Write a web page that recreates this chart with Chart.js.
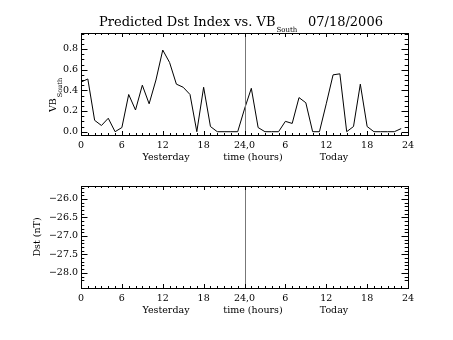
<!DOCTYPE html>
<html><head><meta charset="utf-8">
<script src="https://cdn.jsdelivr.net/npm/chart.js@4/dist/chart.umd.min.js"></script>
<style>
html,body{margin:0;padding:0;background:#fff;}
#wrap{position:relative;width:453px;height:340px;}
canvas{position:absolute;left:0;}
</style></head><body>
<div id="wrap">
<canvas id="c1" width="453" height="170" style="top:0;width:453px;height:170px"></canvas>
<canvas id="c2" width="453" height="170" style="top:170px;width:453px;height:170px"></canvas>
</div>
<script>
const hours = [0,1,2,3,4,5,6,7,8,9,10,11,12,13,14,15,16,17,18,19,20,21,22,23,
  24,25,26,27,28,29,30,31,32,33,34,35,36,37,38,39,40,41,42,43,44,45,46,47];
const vbSouth = [0.48,0.51,0.11,0.06,0.13,0.00,0.04,0.36,0.21,0.45,0.27,0.50,
  0.79,0.67,0.46,0.43,0.36,0.00,0.43,0.05,0.00,0.00,0.00,0.00,
  0.22,0.42,0.04,0.00,0.00,0.00,0.10,0.08,0.33,0.28,0.00,0.00,
  0.27,0.55,0.56,0.00,0.05,0.46,0.05,0.00,0.00,0.00,0.00,0.03];
const dstValues = [];
const xTicks = [0,6,12,18,24,30,36,42,48];
const xTickLabels = ["0","6","12","18","24,0","6","12","18","24"];
const vbTicks = [0.0,0.2,0.4,0.6,0.8];
const dstTicks = [-28.0,-27.5,-27.0,-26.5,-26.0];
const titleMain = "Predicted Dst Index vs. VB";
const titleSub = "South";
const titleDate = "07/18/2006";
const xTitles = ["Yesterday","time (hours)","Today"];

const FONT = "DejaVu Serif";

function idlPlugin(opts){
  return {
    id:'idl'+opts.id,
    afterDraw(chart){
      const ctx=chart.ctx, a=chart.chartArea, xs=chart.scales.x, ys=chart.scales.y;
      ctx.save();
      ctx.strokeStyle='#777'; ctx.lineWidth=1;
      const xm=Math.round(xs.getPixelForValue(24))+0.5;
      ctx.beginPath(); ctx.moveTo(xm,a.top); ctx.lineTo(xm,a.bottom); ctx.stroke();
      ctx.strokeStyle='#000';
      ctx.strokeRect(Math.round(a.left)+0.5,Math.round(a.top)+0.5,Math.round(a.right-a.left),Math.round(a.bottom-a.top));
      ctx.beginPath();
      for(let h=0;h<=48;h++){
        const px=Math.round(xs.getPixelForValue(h))+0.5;
        const L=(h%6===0)?4:2;
        ctx.moveTo(px,a.bottom); ctx.lineTo(px,a.bottom-L);
        ctx.moveTo(px,a.top); ctx.lineTo(px,a.top+L);
      }
      const n=Math.round((opts.ymaxTick-opts.yminTick)/opts.minor);
      for(let i=-2;i<=n+4;i++){
        const v=opts.yminTick+i*opts.minor;
        if(v<ys.min-1e-9||v>ys.max+1e-9) continue;
        const py=Math.round(ys.getPixelForValue(v))+0.5;
        const major=Math.abs(i%opts.per)<1e-9;
        const L=major?6.5:3.3;
        ctx.moveTo(a.left,py); ctx.lineTo(a.left+L,py);
        ctx.moveTo(a.right,py); ctx.lineTo(a.right-L,py);
      }
      ctx.stroke();
      ctx.fillStyle='#000'; ctx.font='9.5px "'+FONT+'"'; ctx.textAlign='center'; ctx.textBaseline='middle';
      const ty=a.bottom+22.5;
      ctx.fillText(xTitles[0],166,ty);
      ctx.fillText(xTitles[1],253,ty);
      ctx.fillText(xTitles[2],334,ty);
      opts.extra(ctx,a);
      ctx.restore();
    }
  };
}

function baseOptions(yMin,yMax,yTicks,fmt,padTop,xH){
  return {
    responsive:false, animation:false,
    layout:{padding:{top:padTop,right:45,left:0,bottom:0}},
    plugins:{legend:{display:false},tooltip:{enabled:false},title:{display:false}},
    scales:{
      x:{type:'linear',min:0,max:48,
        afterBuildTicks(ax){ax.ticks=xTicks.map(v=>({value:v}));},
        afterFit(ax){ax.height=xH;},
        grid:{display:false,drawTicks:false},border:{display:false},
        ticks:{padding:5,color:'#000',maxRotation:0,autoSkip:false,font:{family:FONT,size:9.5},
          callback:(v)=>xTickLabels[xTicks.indexOf(v)]}},
      y:{type:'linear',min:yMin,max:yMax,
        afterBuildTicks(ax){ax.ticks=yTicks.map(v=>({value:v}));},
        afterFit(ax){ax.width=81;},
        grid:{display:false,drawTicks:false},border:{display:false},
        ticks:{padding:3,color:'#000',autoSkip:false,font:{family:FONT,size:9.5},callback:fmt}}
    }
  };
}

new Chart(document.getElementById('c1'),{
  type:'line',
  data:{labels:hours,datasets:[{data:hours.map((h,i)=>({x:h,y:vbSouth[i]})),borderColor:'#000',borderWidth:1,pointRadius:0,tension:0,fill:false}]},
  options:baseOptions(-0.032,0.955,vbTicks,(v)=>v.toFixed(1),33,35),
  plugins:[idlPlugin({id:1,yminTick:0,ymaxTick:0.8,minor:0.05,per:4,extra(ctx,a){
    ctx.font='13px "'+FONT+'"'; ctx.textAlign='left'; ctx.textBaseline='middle';
    ctx.fillText(titleMain,99,23);
    const w=ctx.measureText(titleMain).width;
    ctx.font='7px "'+FONT+'"';
    ctx.fillText(titleSub,99+w+1,30.5);
    ctx.font='13px "'+FONT+'"';
    ctx.fillText(titleDate,308,23);
    ctx.save(); ctx.translate(54,95); ctx.rotate(-Math.PI/2);
    ctx.font='9.5px "'+FONT+'"'; ctx.textAlign='left';
    const w2=ctx.measureText('VB').width;
    ctx.font='6.5px "'+FONT+'"';
    const w3=ctx.measureText('South').width;
    const start=-(w2+w3+1)/2;
    ctx.font='9.5px "'+FONT+'"'; ctx.fillText('VB',start,0);
    ctx.font='6.5px "'+FONT+'"'; ctx.fillText('South',start+w2+1,6);
    ctx.restore();
  }})]
});

new Chart(document.getElementById('c2'),{
  type:'line',
  data:{labels:hours,datasets:[{data:dstValues,borderColor:'#000',borderWidth:1,pointRadius:0}]},
  options:baseOptions(-28.41,-25.65,dstTicks,(v)=>v.toFixed(1).replace('-','\u2212'),16,52),
  plugins:[idlPlugin({id:2,yminTick:-28.0,ymaxTick:-26.0,minor:0.1,per:5,extra(ctx,a){
    ctx.save(); ctx.translate(38,a.top+(a.bottom-a.top)/2); ctx.rotate(-Math.PI/2);
    ctx.font='9.5px "'+FONT+'"'; ctx.textAlign='center'; ctx.textBaseline='middle';
    ctx.fillText('Dst (nT)',0,0);
    ctx.restore();
  }})]
});
</script>
</body></html>
